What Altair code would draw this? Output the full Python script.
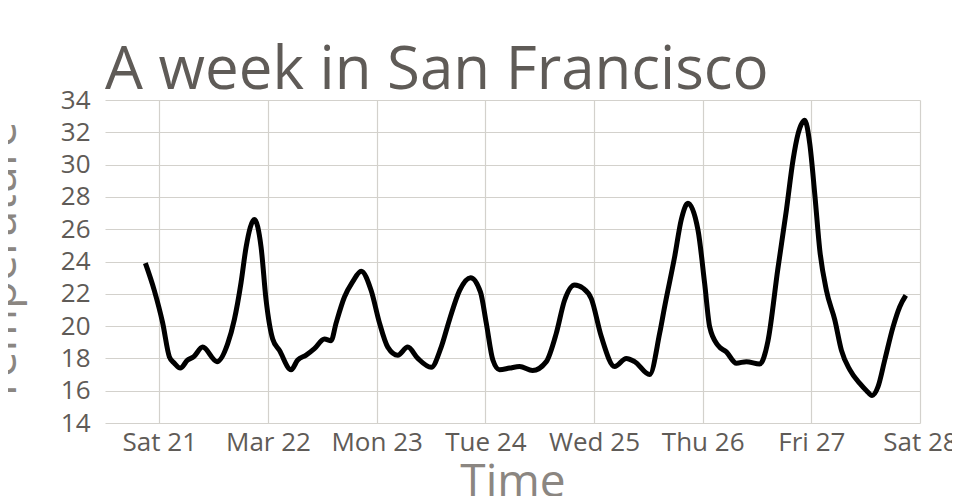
import altair as alt
import pandas as pd

# Readings (local time) and temperatures
times = [
    "2015-03-20T20:55", "2015-03-20T22:54",
    "2015-03-21T00:44", "2015-03-21T02:13", "2015-03-21T03:19", "2015-03-21T04:38",
    "2015-03-21T06:15", "2015-03-21T07:35", "2015-03-21T09:34", "2015-03-21T12:45",
    "2015-03-21T15:05", "2015-03-21T16:34", "2015-03-21T18:03", "2015-03-21T19:10",
    "2015-03-21T21:00", "2015-03-21T22:28", "2015-03-21T23:35",
    "2015-03-22T01:02", "2015-03-22T02:31", "2015-03-22T05:06", "2015-03-22T06:34",
    "2015-03-22T08:25", "2015-03-22T10:15", "2015-03-22T12:28", "2015-03-22T13:56",
    "2015-03-22T15:03", "2015-03-22T16:53", "2015-03-22T18:43", "2015-03-22T20:34",
    "2015-03-22T22:47",
    "2015-03-23T00:37", "2015-03-23T02:27", "2015-03-23T04:40", "2015-03-23T06:52",
    "2015-03-23T09:05", "2015-03-23T12:03", "2015-03-23T14:15", "2015-03-23T16:05",
    "2015-03-23T18:18", "2015-03-23T20:44", "2015-03-23T22:56",
    "2015-03-24T00:12", "2015-03-24T01:40", "2015-03-24T03:08", "2015-03-24T05:21",
    "2015-03-24T07:34", "2015-03-24T10:26", "2015-03-24T13:28", "2015-03-24T15:40",
    "2015-03-24T17:30", "2015-03-24T19:43", "2015-03-24T21:33", "2015-03-24T23:24",
    "2015-03-25T01:37", "2015-03-25T04:33", "2015-03-25T07:08", "2015-03-25T08:58",
    "2015-03-25T12:17", "2015-03-25T14:30", "2015-03-25T15:36", "2015-03-25T17:49",
    "2015-03-25T19:17", "2015-03-25T20:45", "2015-03-25T22:58",
    "2015-03-26T00:26", "2015-03-26T01:33", "2015-03-26T03:23", "2015-03-26T05:14",
    "2015-03-26T07:27", "2015-03-26T09:40", "2015-03-26T12:36", "2015-03-26T14:26",
    "2015-03-26T16:35", "2015-03-26T18:30", "2015-03-26T19:58", "2015-03-26T21:04",
    "2015-03-26T22:32", "2015-03-26T23:39",
    "2015-03-27T00:45", "2015-03-27T01:52", "2015-03-27T03:20", "2015-03-27T05:10",
    "2015-03-27T06:39", "2015-03-27T08:29", "2015-03-27T10:42", "2015-03-27T12:11",
    "2015-03-27T13:25", "2015-03-27T14:44", "2015-03-27T16:13", "2015-03-27T18:03",
    "2015-03-27T19:32", "2015-03-27T20:52",
]
temps = [
    23.9, 22.2,
    20.2, 18.1, 17.7, 17.4,
    17.9, 18.1, 18.7, 17.8,
    18.9, 20.4, 22.7, 24.9,
    26.6, 24.9, 21.6,
    19.2, 18.5, 17.3, 17.9,
    18.2, 18.6, 19.2, 19.1,
    20.2, 21.8, 22.75, 23.4,
    22.2,
    20.2, 18.7, 18.2, 18.7,
    18.0, 17.45, 18.7, 20.4,
    22.2, 23.0, 22.1,
    20.2, 17.9, 17.3, 17.4,
    17.5, 17.25, 17.8, 19.55,
    21.6, 22.55, 22.35, 21.7,
    19.35, 17.5, 18.0, 17.8,
    17.0, 19.55, 21.2, 24.3,
    26.6, 27.6, 25.95,
    22.65, 19.95, 18.8, 18.4,
    17.7, 17.8, 17.65, 19.1,
    23.5, 27.2, 30.3, 31.9,
    32.75, 31.3,
    28.2, 24.7, 22.2, 20.4,
    18.5, 17.3, 16.45, 16.0,
    15.7, 16.25, 17.9, 19.95,
    21.2, 21.9,
]
y_ticks = [14, 16, 18, 20, 22, 24, 26, 28, 30, 32, 34]
chart_title = "A week in San Francisco"
x_title = "Time"
y_title = "Temperature"

df = pd.DataFrame({"time": times, "temp": temps})

FONT = "Open Sans"
LABEL_COLOR = "#5f5b57"
TITLE_COLOR = "#8b8681"
GRID_COLOR = "#d3d1cc"

x_axis = alt.Axis(
    title=x_title,
    tickCount=alt.TimeIntervalStep(interval="day", step=1),
    labelFont=FONT, labelFontSize=26, labelColor=LABEL_COLOR,
    labelPadding=6, labelFlush=False, labelOverlap=False,
    ticks=False, domain=False,
    grid=True, gridColor=GRID_COLOR, gridWidth=1.2,
    titleFont=FONT, titleFontSize=46, titleFontWeight="normal", titleColor=TITLE_COLOR,
    titleX=407.5, titleY=73, titleAlign="center", titleBaseline="alphabetic",
)
y_axis = alt.Axis(
    title=y_title,
    values=y_ticks,
    labelFont=FONT, labelFontSize=26, labelColor=LABEL_COLOR,
    labelPadding=15, labelFlush=False,
    ticks=False, domain=False,
    grid=True, gridColor=GRID_COLOR, gridWidth=1.2,
    titleFont=FONT, titleFontSize=46, titleFontWeight="normal", titleColor=TITLE_COLOR,
    titleAngle=270, titleX=-90, titleY=161.5, titleAlign="center", titleBaseline="alphabetic",
)

chart = (
    alt.Chart(df)
    .mark_line(color="black", strokeWidth=5, interpolate="monotone")
    .encode(
        x=alt.X(
            "time:T",
            scale=alt.Scale(domain=[
                alt.DateTime(year=2015, month=3, date=20, hours=12),
                alt.DateTime(year=2015, month=3, date=28),
            ]),
            axis=x_axis,
        ),
        y=alt.Y("temp:Q", scale=alt.Scale(domain=[14, 34], nice=False, zero=False), axis=y_axis),
    )
    .properties(
        width=815,
        height=323,
        title=alt.TitleParams(
            text=chart_title, anchor="start", frame="group", font=FONT, fontSize=60,
            fontWeight="normal", color=LABEL_COLOR, baseline="alphabetic", offset=-62,
        ),
        autosize=alt.AutoSizeParams(type="none"),
        padding={"left": 97, "top": 92, "right": 32, "bottom": 73},
    )
    .configure_view(strokeWidth=0)
)

chart.save("out.html", embed_options={"renderer": "svg", "actions": False})
